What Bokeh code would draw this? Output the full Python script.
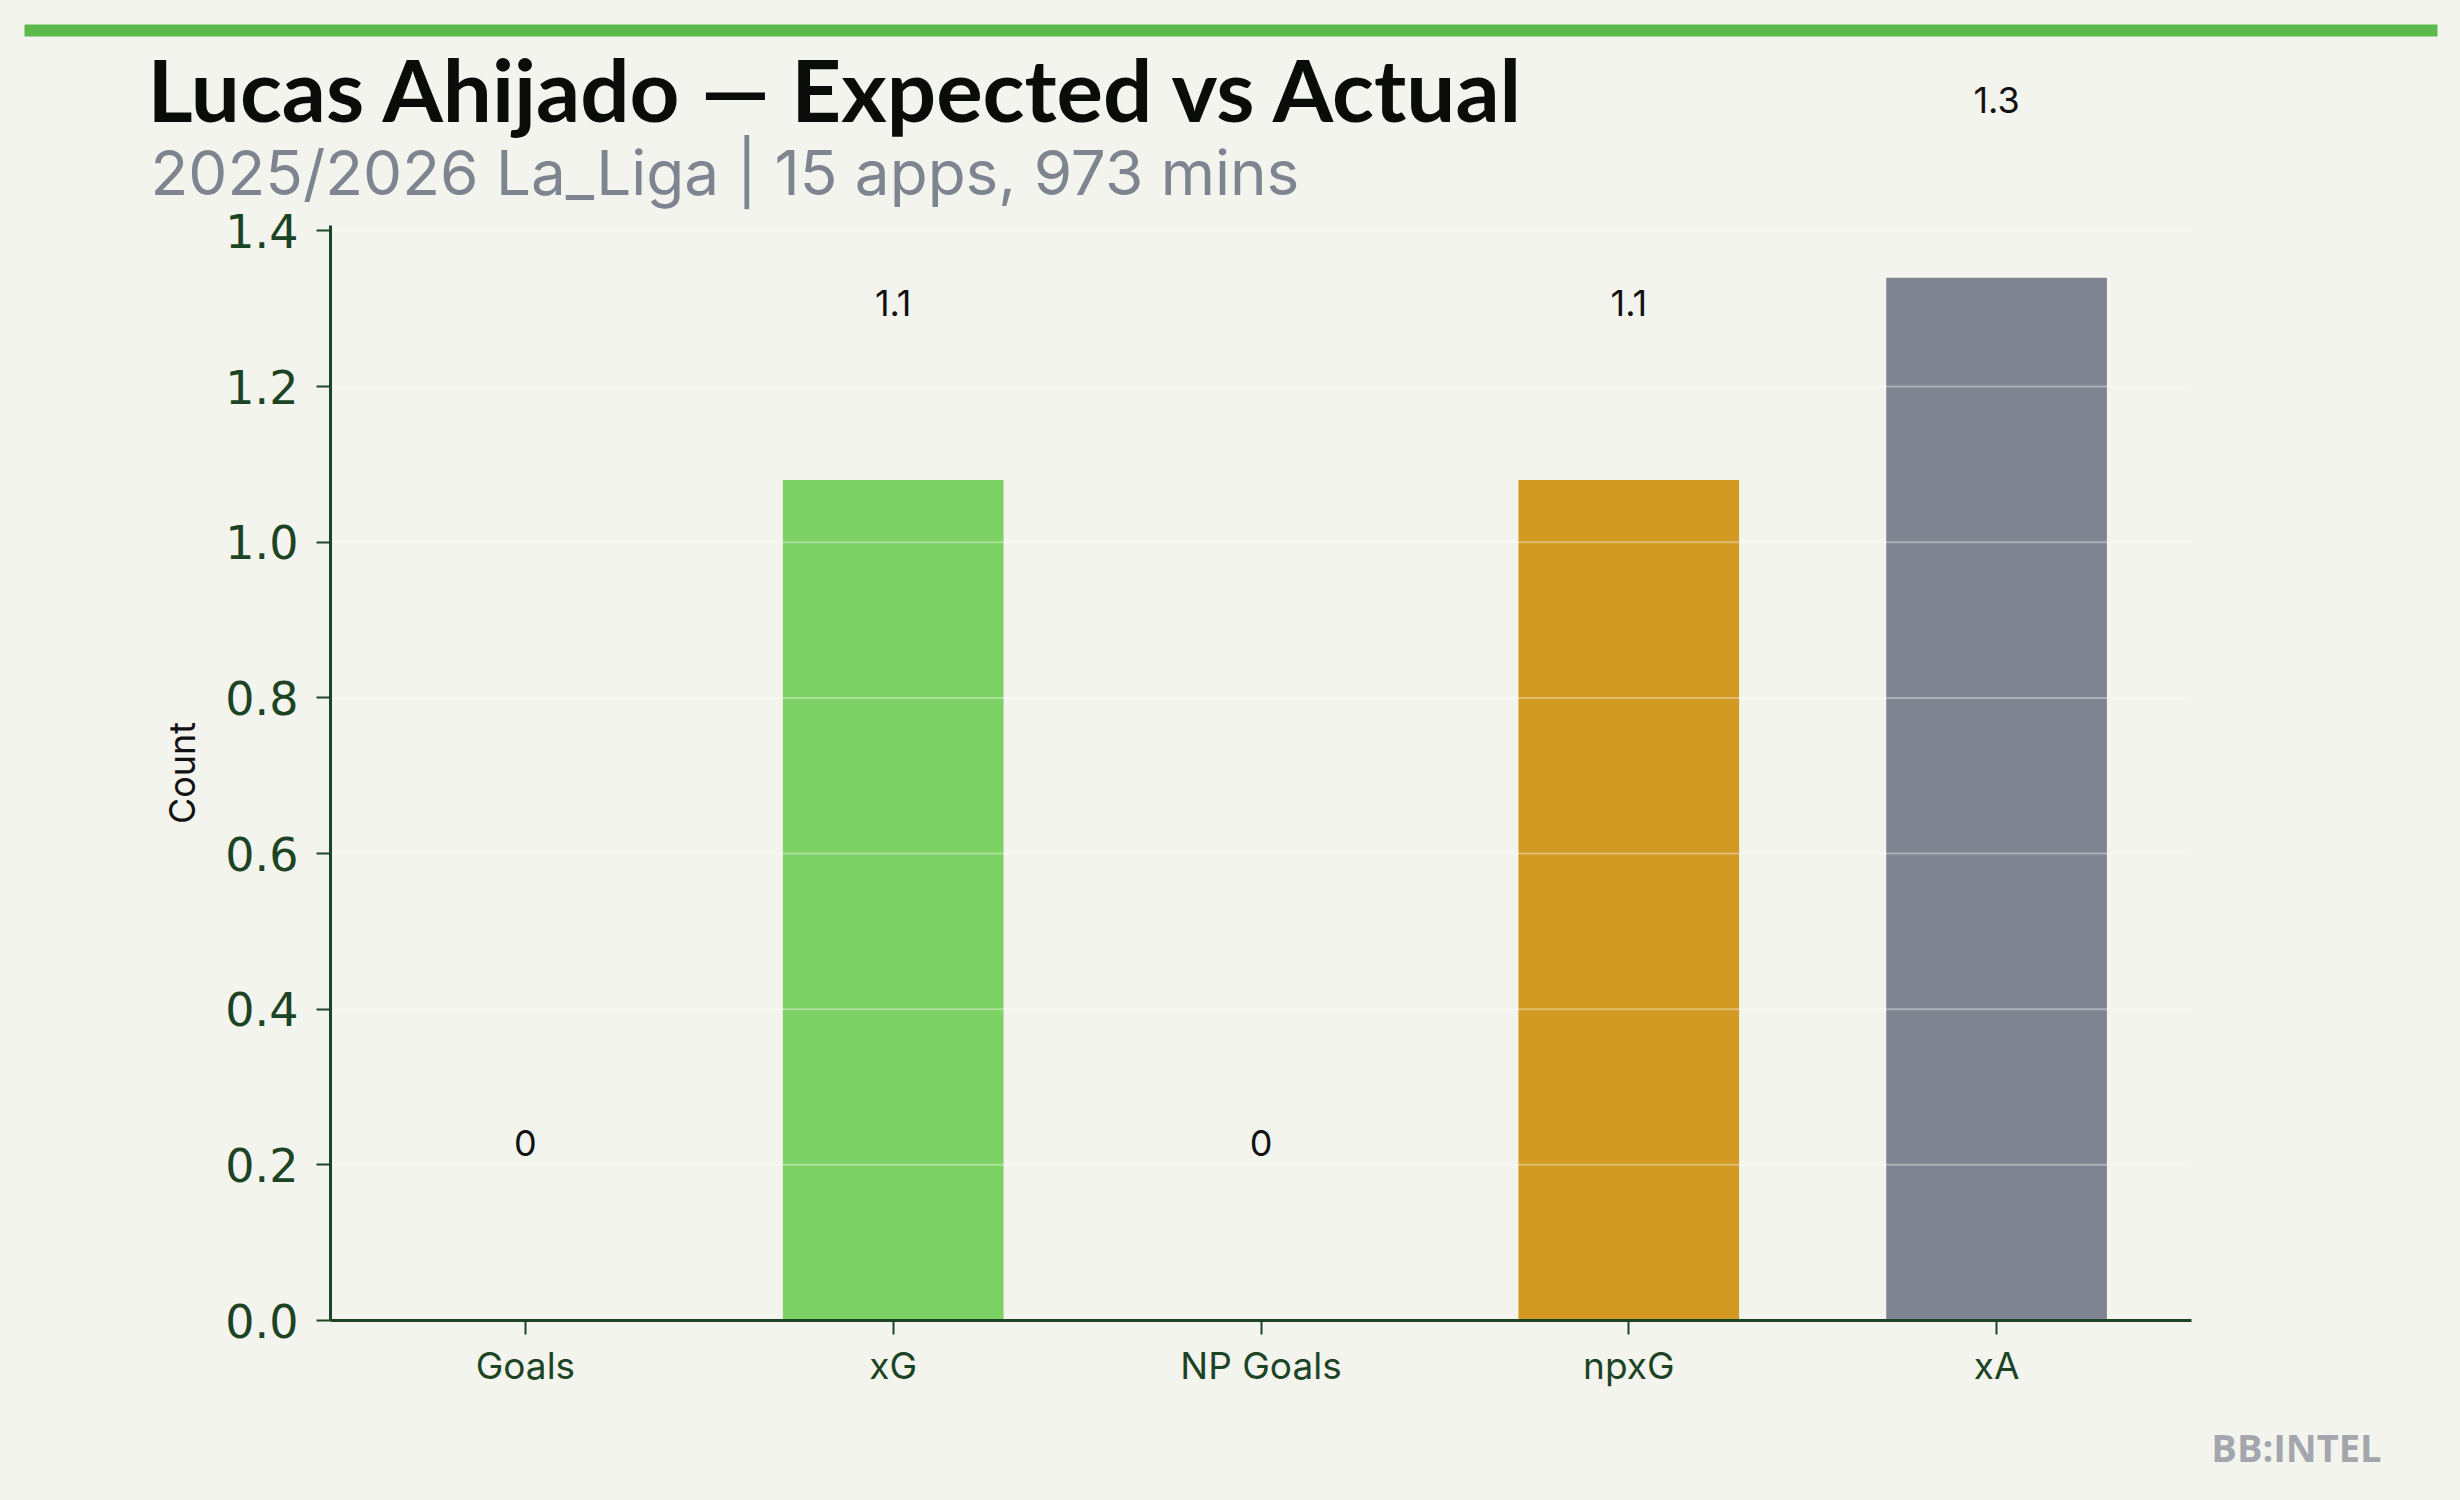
from bokeh.plotting import figure
from bokeh.models import (ColumnDataSource, Range1d, LabelSet, Label, LinearAxis,
                          BoxAnnotation, FixedTicker, NumeralTickFormatter)
from bokeh.core.properties import value
from bokeh.embed import file_html
from bokeh.resources import INLINE

# ---- data ----
categories = ["Goals", "xG", "NP Goals", "npxG", "xA"]
values = [0.0, 1.08, 0.0, 1.08, 1.34]
value_labels = ["0", "1.1", "0", "1.1", "1.3"]
bar_colors = ["#7DD266", "#7DD266", "#D29A22", "#D29A22", "#7F8590"]
y_ticks = [0.0, 0.2, 0.4, 0.6, 0.8, 1.0, 1.2, 1.4]

title_text = "Lucas Ahijado \u2014 Expected vs Actual"
subtitle_text = "2025/2026 La_Liga | 15 apps, 973 mins"
watermark_text = "BB:INTEL"
y_label = "Count"

# ---- style / geometry ----
BG = "#F3F4EE"
AXIS = "#1C4424"
W, H = 2460, 1500
AX_L, AX_R, AX_T, AX_B = 330, 2191, 225, 1320   # pixel box of the axes
BAR_W = 0.6

idx = list(range(len(categories)))
X_LO = idx[0] - BAR_W / 2 - 0.05 * (idx[-1] - idx[0] + BAR_W)
X_HI = idx[-1] + BAR_W / 2 + 0.05 * (idx[-1] - idx[0] + BAR_W)
ymax = max(values) * 1.05

px_x = (AX_R - AX_L) / (X_HI - X_LO)
py = (AX_B - AX_T) / ymax
x_range = Range1d(X_LO - AX_L / px_x, X_HI + (W - AX_R) / px_x)
y_range = Range1d(-(H - AX_B) / py, ymax + AX_T / py)

p = figure(width=W, height=H, x_range=x_range, y_range=y_range,
           x_axis_type=None, y_axis_type=None,
           output_backend="svg", toolbar_location=None,
           min_border_left=0, min_border_right=0, min_border_top=0, min_border_bottom=0)
p.background_fill_color = BG
p.border_fill_color = BG
p.outline_line_color = None
p.xgrid.visible = False
p.ygrid.visible = False

src = ColumnDataSource(dict(x=idx, cat=categories, val=values, lab=value_labels, col=bar_colors))
p.vbar(x="x", top="val", width=BAR_W, source=src, fill_color="col", line_color=None)

# faint grid lines drawn over the bars
p.segment(x0=[X_LO] * len(y_ticks), x1=[X_HI] * len(y_ticks), y0=y_ticks, y1=y_ticks,
          line_color="white", line_alpha=0.35, line_width=2)

labels = LabelSet(x="x", y="val", text="lab", source=src,
                  y_offset=0.15 * ymax * py, text_align="center", text_baseline="alphabetic",
                  text_font=value("Inter"), text_font_size=value("36px"), text_color=value("#111111"))
p.add_layout(labels)

# axes
yaxis = LinearAxis(fixed_location=X_LO, bounds=(0, ymax),
                   ticker=FixedTicker(ticks=y_ticks), formatter=NumeralTickFormatter(format="0.0"))
xaxis = LinearAxis(fixed_location=0, bounds=(X_LO, X_HI), ticker=FixedTicker(ticks=idx),
                   major_label_overrides={i: c for i, c in zip(idx, categories)})
for ax in (xaxis, yaxis):
    ax.axis_line_color = AXIS
    ax.axis_line_width = 3
    ax.major_tick_line_color = AXIS
    ax.major_tick_line_width = 2
    ax.major_tick_out = 14
    ax.major_tick_in = 0
    ax.minor_tick_line_color = None
    ax.major_label_text_color = AXIS

yaxis.major_label_text_font = "DejaVu Sans"
yaxis.major_label_text_font_size = "46px"
yaxis.major_label_standoff = 18
yaxis.axis_label = y_label
yaxis.axis_label_text_font = "Inter"
yaxis.axis_label_text_font_style = "normal"
yaxis.axis_label_text_font_size = "36px"
yaxis.axis_label_text_color = "#111111"
yaxis.axis_label_standoff = 18

xaxis.major_label_text_font = "Inter"
xaxis.major_label_text_font_size = "37px"
xaxis.major_label_standoff = 8

p.add_layout(yaxis, "left")
p.add_layout(xaxis, "below")

# ---- decorations in canvas pixels ----
p.add_layout(BoxAnnotation(left=24, right=2437, top=24, bottom=36,
                           left_units="canvas", right_units="canvas",
                           top_units="canvas", bottom_units="canvas",
                           fill_color="#5CB94C", fill_alpha=1.0, line_color=None))

p.add_layout(Label(text=title_text, x=147, y=88, x_units="canvas", y_units="canvas",
                   text_font="Lato", text_font_style="bold", text_font_size="87px",
                   text_color="#0A0C0A", text_baseline="alphabetic", text_align="left"))
p.add_layout(Label(text=subtitle_text, x=150, y=172, x_units="canvas", y_units="canvas",
                   text_font="Inter", text_font_size="62px", text_color="#7E8590",
                   text_baseline="alphabetic", text_align="left"))
p.add_layout(Label(text=watermark_text, x=2381, y=1446, x_units="canvas", y_units="canvas",
                   text_font="Open Sans", text_font_style="bold", text_font_size="38px",
                   text_color="#A3A7AD", text_baseline="alphabetic", text_align="right"))

html = file_html(p, INLINE)
html = html.replace("</head>",
                    "<style>html, body {background: %s !important; overflow: hidden;}</style></head>" % BG, 1)
open("out.html", "w").write(html)
